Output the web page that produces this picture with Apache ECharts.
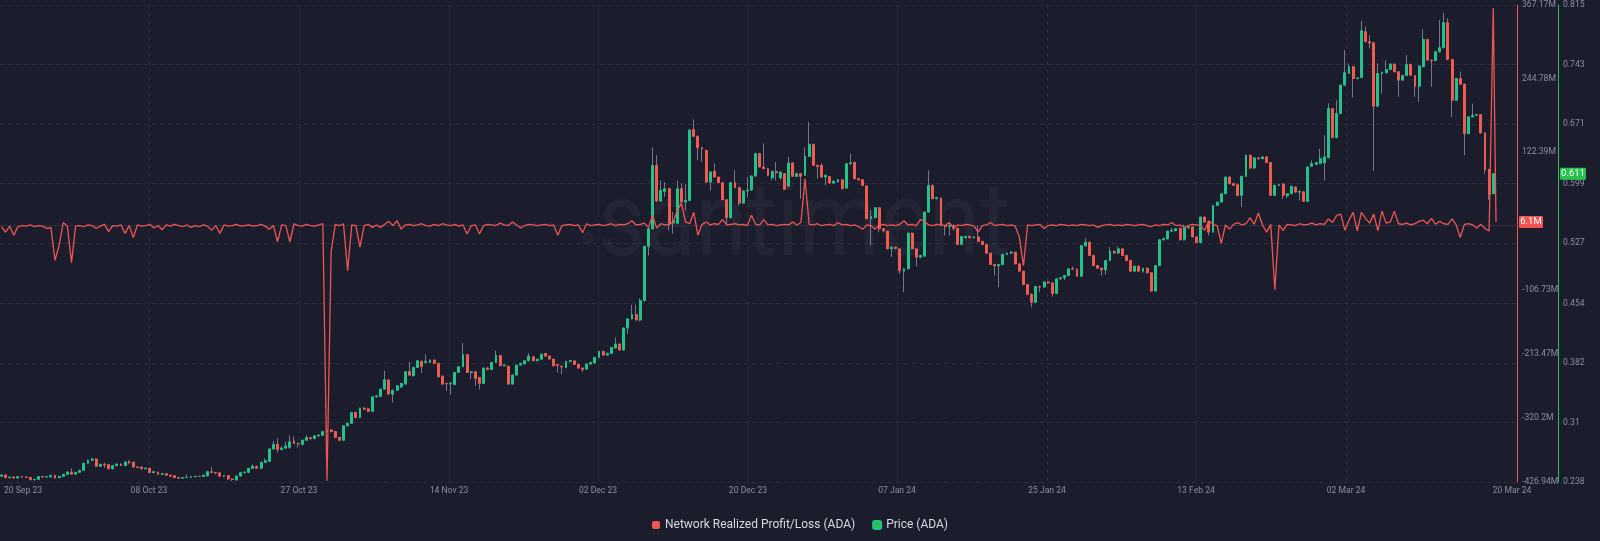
<!DOCTYPE html>
<html><head><meta charset="utf-8">
<script src="https://cdn.jsdelivr.net/npm/echarts/dist/echarts.min.js"></script>
<style>html,body{margin:0;padding:0;background:#1b1d2d;}#c{width:1600px;height:541px;}</style>
</head><body><div id="c"></div>
<script>
// ---- time base: 12h candles ----
const firstCandle = '2023-09-21T00:00:00Z';
const candleStepHours = 12;

// ---- Price (ADA) OHLC, 12h candles ----
const priceOpen = [
.2450,.2465,.2432,.2440,.2428,.2445,.2440,.2436,.2408,.2412,
.2445,.2440,.2444,.2460,.2432,.2448,.2473,.2500,.2475,.2497,
.2521,.2606,.2643,.2658,.2570,.2594,.2590,.2540,.2578,.2598,
.2580,.2622,.2618,.2562,.2560,.2540,.2548,.2493,.2500,.2473,
.2480,.2462,.2455,.2432,.2427,.2434,.2437,.2445,.2448,.2446,
.2455,.2505,.2495,.2490,.2450,.2456,.2416,.2405,.2452,.2493,
.2497,.2545,.2570,.2546,.2618,.2630,.2780,.2836,.2772,.2790,
.2800,.2875,.2845,.2835,.2885,.2917,.2905,.2938,.2945,.2990,
.3010,.2990,.2920,.2885,.3060,.3090,.3220,.3160,.3272,.3265,
.3235,.3410,.3415,.3503,.3612,.3443,.3490,.3530,.3564,.3717,
.3665,.3766,.3840,.3826,.3826,.3855,.3815,.3660,.3572,.3568,
.3560,.3705,.3774,.3919,.3705,.3713,.3645,.3572,.3758,.3740,
.3826,.3911,.3786,.3780,.3564,.3673,.3794,.3808,.3847,.3895,
.3847,.3865,.3935,.3903,.3867,.3800,.3780,.3766,.3839,.3845,
.3802,.3758,.3746,.3806,.3820,.3887,.3960,.3915,.3935,.4000,
.4049,.3976,.4242,.4352,.4404,.4340,.4575,.5230,.5443,.6210,
.5778,.5895,.5928,.5512,.5510,.5928,.5766,.5786,.6643,.6562,
.6425,.6390,.6008,.6138,.6069,.6000,.5794,.5576,.6000,.5940,
.5754,.5900,.5912,.6081,.6352,.6190,.6170,.6060,.6138,.6060,
.6110,.5960,.6239,.6077,.6110,.6090,.6320,.6465,.6210,.6210,
.6069,.6075,.5996,.6010,.6036,.5935,.6230,.6245,.6049,.6036,
.5960,.5564,.5580,.5697,.5443,.5415,.5200,.5220,.5200,.4930,
.4958,.5390,.5200,.5099,.5112,.5645,.5968,.5806,.5815,.5483,
.5470,.5480,.5450,.5253,.5335,.5350,.5335,.5345,.5290,.5253,
.5148,.5011,.4995,.5010,.5133,.5148,.5160,.5019,.4930,.4768,
.4650,.4554,.4745,.4738,.4800,.4788,.4660,.4837,.4850,.4878,
.4958,.4955,.4870,.5237,.5281,.5120,.4998,.4966,.4945,.5059,
.5170,.5150,.5200,.5120,.5059,.4930,.4990,.4930,.4965,.4910,
.4690,.4998,.5310,.5320,.5414,.5420,.5445,.5310,.5455,.5465,
.5345,.5275,.5585,.5524,.5403,.5726,.5766,.5867,.6069,.5988,
.5975,.5847,.6077,.6332,.6178,.6300,.6290,.6312,.6244,.5847,
.5968,.5985,.5840,.5867,.5948,.5887,.5890,.5774,.6200,.6223,
.6235,.6240,.6303,.6897,.6546,.6837,.7181,.7322,.7403,.7261,
.7273,.7827,.7706,.7694,.6926,.7322,.7330,.7370,.7435,.7342,
.7241,.7297,.7431,.7295,.7168,.7403,.7734,.7483,.7478,.7584,
.7633,.7936,.7491,.6998,.7261,.7192,.6594,.6796,.6817,.6825,
.6603,.6158,.5867];
const priceClose = [
.2465,.2432,.2440,.2428,.2445,.2440,.2436,.2408,.2412,.2445,
.2440,.2444,.2460,.2430,.2448,.2473,.2501,.2475,.2497,.2521,
.2606,.2643,.2658,.2570,.2594,.2585,.2540,.2578,.2598,.2580,
.2622,.2618,.2562,.2555,.2540,.2548,.2493,.2505,.2473,.2480,
.2462,.2450,.2432,.2427,.2434,.2437,.2445,.2448,.2446,.2462,
.2505,.2495,.2488,.2450,.2456,.2416,.2410,.2452,.2493,.2500,
.2545,.2570,.2546,.2618,.2638,.2780,.2836,.2772,.2790,.2815,
.2865,.2845,.2840,.2885,.2917,.2905,.2938,.2945,.2990,.3005,
.2990,.2920,.2885,.3060,.3090,.3220,.3160,.3272,.3260,.3235,
.3410,.3422,.3503,.3617,.3443,.3490,.3544,.3572,.3713,.3673,
.3766,.3847,.3780,.3840,.3855,.3815,.3652,.3564,.3568,.3575,
.3705,.3774,.3919,.3705,.3713,.3632,.3572,.3758,.3740,.3826,
.3911,.3786,.3795,.3564,.3673,.3794,.3815,.3847,.3903,.3847,
.3865,.3927,.3903,.3867,.3786,.3790,.3772,.3839,.3847,.3802,
.3758,.3742,.3806,.3826,.3887,.3960,.3915,.3935,.4008,.4049,
.3976,.4242,.4352,.4404,.4340,.4575,.5230,.5443,.6210,.5778,
.5908,.5928,.5512,.5540,.5928,.5766,.5786,.6635,.6562,.6425,
.6410,.6008,.6130,.6069,.6000,.5794,.5576,.6000,.5940,.5754,
.5900,.5912,.6081,.6352,.6190,.6170,.6089,.6138,.6120,.6130,
.5920,.6239,.6077,.6110,.6077,.6320,.6465,.6210,.6195,.6069,
.6090,.5996,.6020,.6036,.5928,.6230,.6240,.6049,.6035,.5968,
.5564,.5590,.5697,.5443,.5420,.5200,.5220,.5205,.4938,.4958,
.5390,.5200,.5099,.5120,.5645,.5968,.5806,.5820,.5483,.5470,
.5480,.5450,.5253,.5350,.5350,.5335,.5345,.5290,.5253,.5148,
.5011,.4995,.5010,.5133,.5148,.5160,.5019,.4930,.4768,.4650,
.4554,.4745,.4738,.4800,.4788,.4660,.4837,.4850,.4878,.4958,
.4955,.4870,.5237,.5281,.5120,.4998,.4966,.4945,.5059,.5170,
.5150,.5200,.5120,.5059,.4930,.4990,.4930,.4965,.4910,.4690,
.4998,.5310,.5325,.5414,.5425,.5445,.5310,.5455,.5465,.5345,
.5275,.5585,.5524,.5403,.5726,.5766,.5867,.6069,.5988,.5968,
.5847,.6077,.6332,.6178,.6300,.6290,.6312,.6244,.5847,.5968,
.5975,.5847,.5867,.5956,.5887,.5895,.5774,.6190,.6231,.6243,
.6291,.6312,.6897,.6546,.6837,.7181,.7330,.7403,.7261,.7268,
.7839,.7706,.7690,.6926,.7322,.7335,.7370,.7435,.7342,.7241,
.7297,.7431,.7301,.7168,.7411,.7734,.7483,.7475,.7584,.7633,
.7936,.7491,.6998,.7261,.7192,.6594,.6796,.6817,.6825,.6603,
.6158,.5859,.6110];
const priceLow = [
.2440,.2425,.2425,.2420,.2420,.2432,.2428,.2400,.2398,.2405,
.2432,.2434,.2428,.2422,.2428,.2440,.2468,.2470,.2470,.2490,
.2515,.2600,.2632,.2565,.2562,.2553,.2535,.2530,.2570,.2574,
.2575,.2594,.2555,.2548,.2535,.2535,.2487,.2485,.2468,.2465,
.2455,.2440,.2428,.2418,.2420,.2430,.2433,.2440,.2440,.2440,
.2446,.2490,.2480,.2445,.2440,.2410,.2392,.2395,.2448,.2488,
.2488,.2540,.2540,.2540,.2612,.2620,.2770,.2735,.2765,.2780,
.2780,.2840,.2796,.2820,.2880,.2895,.2895,.2925,.2935,.2985,
.2982,.2910,.2875,.2880,.3050,.3085,.3150,.3155,.3252,.3228,
.3230,.3400,.3405,.3498,.3438,.3342,.3485,.3518,.3560,.3668,
.3660,.3760,.3697,.3820,.3820,.3808,.3648,.3558,.3483,.3434,
.3550,.3700,.3770,.3700,.3625,.3544,.3503,.3568,.3733,.3735,
.3820,.3780,.3780,.3560,.3560,.3668,.3790,.3800,.3842,.3842,
.3840,.3860,.3898,.3862,.3780,.3705,.3685,.3760,.3830,.3796,
.3752,.3710,.3740,.3800,.3812,.3882,.3910,.3910,.3930,.3995,
.3970,.3970,.4170,.4345,.4335,.4320,.4560,.5120,.5430,.5770,
.5770,.5827,.5423,.5382,.5500,.5760,.5665,.5780,.6555,.6271,
.6251,.6000,.5907,.6060,.5995,.5790,.5483,.5570,.5935,.5720,
.5745,.5827,.5900,.6075,.6185,.6160,.6080,.6030,.6028,.6035,
.5915,.5940,.6070,.6070,.5807,.6085,.6310,.6205,.6049,.6060,
.5968,.5990,.5990,.6000,.5920,.5930,.6220,.6040,.6025,.5960,
.5555,.5241,.5570,.5402,.5400,.5195,.5100,.5195,.4897,.4675,
.4950,.5195,.4987,.5090,.5105,.5640,.5800,.5798,.5478,.5362,
.5362,.5420,.5245,.5245,.5325,.5325,.5325,.5285,.5245,.5140,
.5005,.4877,.4735,.5005,.5125,.5140,.5012,.4925,.4760,.4640,
.4493,.4545,.4675,.4730,.4775,.4620,.4655,.4830,.4822,.4870,
.4945,.4862,.4862,.5230,.5115,.4990,.4960,.4877,.4890,.5052,
.5140,.5140,.5115,.5050,.4925,.4922,.4920,.4910,.4900,.4680,
.4685,.4990,.5300,.5315,.5405,.5410,.5300,.5300,.5445,.5340,
.5270,.5270,.5520,.5362,.5395,.5720,.5760,.5860,.5982,.5960,
.5840,.5705,.6070,.6170,.6170,.6280,.6285,.6238,.5840,.5840,
.5960,.5800,.5815,.5860,.5880,.5786,.5768,.5768,.6195,.6215,
.6225,.6029,.6295,.6540,.6538,.6830,.7175,.7315,.7031,.7250,
.7265,.7700,.7625,.6142,.6918,.7079,.7325,.7365,.7335,.7039,
.7235,.7290,.7295,.7039,.6978,.7398,.7478,.7160,.7470,.7578,
.7625,.7485,.6796,.6990,.7185,.6332,.6588,.6788,.6805,.6595,
.6110,.5794,.5860];
const priceHigh = [
.2470,.2470,.2445,.2445,.2450,.2450,.2446,.2440,.2420,.2450,
.2452,.2452,.2466,.2468,.2452,.2478,.2508,.2545,.2502,.2528,
.2612,.2650,.2675,.2668,.2600,.2614,.2598,.2585,.2605,.2604,
.2628,.2647,.2630,.2570,.2570,.2553,.2553,.2512,.2505,.2485,
.2488,.2468,.2462,.2440,.2440,.2473,.2450,.2455,.2456,.2468,
.2510,.2562,.2502,.2498,.2462,.2460,.2425,.2458,.2498,.2508,
.2550,.2594,.2578,.2622,.2667,.2785,.2877,.2910,.2815,.2868,
.2945,.2930,.2860,.2892,.2945,.2925,.2950,.2960,.2998,.3012,
.3018,.2995,.2925,.3065,.3100,.3225,.3230,.3280,.3285,.3280,
.3418,.3430,.3510,.3726,.3625,.3495,.3550,.3580,.3720,.3835,
.3772,.3852,.3845,.3927,.3860,.3860,.3820,.3670,.3580,.3585,
.3710,.3780,.4060,.3925,.3720,.3718,.3650,.3765,.3770,.3832,
.3968,.3918,.3805,.3786,.3680,.3800,.3822,.3852,.3940,.3900,
.3870,.3932,.3940,.3908,.3872,.3810,.3790,.3845,.3855,.3850,
.3808,.3766,.3812,.3832,.3892,.3965,.3968,.3945,.4014,.4129,
.4055,.4250,.4360,.4525,.4525,.4600,.5240,.5460,.6425,.6332,
.6029,.6008,.5940,.5645,.6029,.5990,.5988,.6650,.6764,.6570,
.6432,.6400,.6138,.6231,.6075,.6005,.5800,.6008,.6150,.5950,
.5910,.6069,.6090,.6360,.6360,.6473,.6180,.6145,.6250,.6140,
.6115,.6312,.6245,.6118,.6118,.6425,.6736,.6470,.6220,.6235,
.6098,.6080,.6028,.6045,.6042,.6240,.6352,.6258,.6057,.6042,
.5966,.5670,.5705,.5705,.5450,.5420,.5230,.5230,.5205,.4965,
.5398,.5398,.5205,.5128,.5652,.6150,.5980,.5828,.5820,.5490,
.5520,.5500,.5458,.5358,.5358,.5360,.5352,.5480,.5298,.5260,
.5155,.5020,.5020,.5140,.5155,.5170,.5165,.5025,.4935,.4775,
.4660,.4755,.4755,.4808,.4806,.4795,.4845,.4860,.4885,.4965,
.4985,.4960,.5245,.5334,.5288,.5128,.5005,.4972,.5066,.5222,
.5180,.5228,.5208,.5128,.5065,.4998,.5000,.4970,.4975,.4918,
.5005,.5318,.5335,.5422,.5455,.5452,.5460,.5495,.5475,.5472,
.5352,.5592,.5592,.5530,.5732,.5772,.5875,.6075,.6075,.6000,
.5995,.6085,.6340,.6340,.6310,.6310,.6320,.6320,.6250,.5975,
.5990,.5995,.5875,.5965,.5955,.5905,.5895,.6198,.6271,.6250,
.6413,.6574,.6960,.6905,.6998,.7190,.7605,.7443,.7410,.7280,
.7960,.7887,.7786,.7700,.7443,.7345,.7483,.7442,.7442,.7348,
.7305,.7544,.7438,.7300,.7418,.7855,.7740,.7490,.7590,.7968,
.8057,.7988,.7498,.7268,.7342,.7198,.6805,.6958,.6832,.6830,
.6610,.6165,.6118];

// ---- Network Realized Profit/Loss (ADA), millions, same 12h steps ----
const realizedPL = [
-2,-11,-1,-16,-2,0,-1,1,-2,0,
-1,-5,-3,-58,-33,5,-1,-62,-1,0,
-2,1,0,-5,-1,2,-10,0,-1,1,
-13,0,-20,1,-1,0,2,-4,0,-7,
1,-1,2,0,-2,1,-3,0,-2,1,
-1,-8,0,-13,1,-1,0,2,-1,0,
1,-1,0,2,-1,-6,0,-27,1,0,
-27,3,0,-1,2,0,-1,1,3,-425,
-44,2,0,3,-75,1,0,-36,0,2,
-3,1,-3,2,7,0,8,-6,1,2,
0,1,3,0,-1,2,0,3,1,0,
2,-1,1,-14,0,1,-14,0,2,1,
0,4,1,0,6,1,-4,0,2,1,
0,1,2,0,1,-16,0,1,2,0,
1,-12,3,0,1,2,0,1,3,0,
2,1,3,8,1,2,4,-3,17,-4,
3,1,2,6,25,37,6,3,22,-16,
2,6,1,3,2,10,1,2,3,1,
2,0,17,2,1,10,1,2,0,1,
2,1,6,1,5,78,2,1,3,0,
1,2,0,5,1,2,0,1,-2,-6,
1,0,-6,1,2,0,1,0,2,8,
1,2,0,10,7,1,0,2,1,0,
5,-4,1,0,2,1,-1,-11,0,1,
5,0,1,2,0,1,-1,-19,-67,1,
0,1,2,-5,0,1,0,2,1,0,
1,0,2,1,0,1,-3,0,1,2,
0,1,0,2,1,0,1,2,0,-2,
1,0,2,1,5,0,1,-3,0,2,
1,0,-8,8,2,0,-30,1,-6,2,
5,1,3,13,2,21,1,-11,2,-107,
1,-8,2,1,0,3,1,2,4,1,
3,2,11,5,17,19,-8,9,22,-9,
22,12,4,19,-9,24,4,6,24,3,
2,4,1,3,7,9,3,12,2,7,
3,2,11,1,-20,2,3,1,-4,2,
-5,-9,362];
const realizedPLLastTime = '2024-03-20T08:00:00Z';
const realizedPLLast = 6.1;

// ---- axes ----
const xStart = '2023-09-20T19:48:00Z';
const xEnd = '2024-03-22T21:07:00Z';
const xLabelTimes = ['2023-09-23T14:47:00Z','2023-10-08T21:40:00Z','2023-10-27T02:28:00Z','2023-11-14T07:16:00Z','2023-12-02T09:09:00Z','2023-12-20T13:55:00Z','2024-01-07T15:49:00Z','2024-01-25T20:36:00Z','2024-02-12T22:28:00Z','2024-03-02T03:14:00Z','2024-03-22T06:37:00Z'];
const xLabelText = ['20 Sep 23','08 Oct 23','27 Oct 23','14 Nov 23','02 Dec 23','20 Dec 23','07 Jan 24','25 Jan 24','13 Feb 24','02 Mar 24','20 Mar 24'];
const plTicks = [367.17, 244.78, 122.39, -106.73, -213.47, -320.2, -426.94];
const plTickText = ['367.17M','244.78M','122.39M','-106.73M','-213.47M','-320.2M','-426.94M'];
const priceTicks = [0.238, 0.31, 0.382, 0.454, 0.527, 0.599, 0.671, 0.743, 0.815];
const lastPrice = 0.611;

// ---- build ----
const t0 = Date.parse(firstCandle);
const step = candleStepHours * 3600 * 1000;
const times = priceOpen.map((_, i) => t0 + i * step);
const wickData = times.map((t, i) => [t, priceOpen[i], priceClose[i], priceLow[i], priceHigh[i]]);
const bodyData = times.map((t, i) => [t, priceOpen[i], priceClose[i], Math.min(priceOpen[i], priceClose[i]), Math.max(priceOpen[i], priceClose[i])]);
const plData = realizedPL.map((v, i) => [times[i], v]);
plData.push([Date.parse(realizedPLLastTime), realizedPLLast]);
const xLabelMs = xLabelTimes.map(s => Date.parse(s));
const xGridMs = xLabelMs.slice(1, xLabelMs.length - 1);

function nearestText(v, vals, texts) {
  let bi = 0, bd = Infinity;
  vals.forEach((x, i) => { const d = Math.abs(x - v); if (d < bd) { bd = d; bi = i; } });
  return texts[bi];
}

const FONT = 'Roboto, "Noto Sans", sans-serif';
const labelColor = '#8b8fa3';
const RED = '#ef5552';
const GREEN = '#27c24e';
const UP = '#22c28a';
const DOWN = '#ee5c50';

const chart = echarts.init(document.getElementById('c'), null, {renderer: 'canvas'});
const option = {
  backgroundColor: '#1b1d2d',
  animation: false,
  textStyle: {fontFamily: FONT},
  grid: {left: 0, right: 83, top: 5, bottom: 59, containLabel: false},
  legend: {
    left: 'center', top: 514, icon: 'roundRect', itemWidth: 8, itemHeight: 8, itemGap: 17,
    textStyle: {color: '#d8d9e1', fontSize: 12, fontFamily: FONT},
    data: [
      {name: 'Network Realized Profit/Loss (ADA)', itemStyle: {color: RED}},
      {name: 'Price (ADA)', itemStyle: {color: GREEN}}
    ]
  },
  xAxis: {
    type: 'value', min: Date.parse(xStart), max: Date.parse(xEnd), scale: true,
    axisLine: {show: true, lineStyle: {color: '#2c2f42', width: 1}},
    axisTick: {show: false, customValues: xGridMs},
    splitLine: {show: true, lineStyle: {color: '#2a2d40', type: [4, 4], width: 1}},
    axisLabel: {
      customValues: xLabelMs, color: labelColor, fontSize: 8.6, margin: 4,
      formatter: v => nearestText(v, xLabelMs, xLabelText)
    }
  },
  yAxis: [
    {
      type: 'value', position: 'right', min: -426.94, max: 367.17,
      axisLine: {show: true, lineStyle: {color: RED, width: 1}},
      axisTick: {show: false}, splitLine: {show: false},
      axisLabel: {customValues: plTicks, color: labelColor, fontSize: 8.6, margin: 5,
        formatter: v => nearestText(v, plTicks, plTickText)}
    },
    {
      type: 'value', position: 'right', offset: 41, min: 0.238, max: 0.815,
      axisLine: {show: true, lineStyle: {color: GREEN, width: 1}},
      axisTick: {show: false, customValues: priceTicks},
      splitLine: {show: true, lineStyle: {color: '#2a2d40', type: [4, 4], width: 1}},
      axisLabel: {customValues: priceTicks, color: labelColor, fontSize: 8.6, margin: 5,
        formatter: v => String(nearestText(v, priceTicks, priceTicks))}
    }
  ],
  series: [
    {
      name: 'wicks', type: 'candlestick', yAxisIndex: 1, barWidth: 1,
      encode: {x: 0, y: [1, 2, 3, 4]},
      itemStyle: {color: '#737790', color0: '#737790', borderColor: '#737790', borderColor0: '#737790', borderWidth: 1},
      data: wickData, z: 2
    },
    {
      name: 'Price (ADA)', type: 'candlestick', yAxisIndex: 1, barWidth: 2.4,
      encode: {x: 0, y: [1, 2, 3, 4]},
      itemStyle: {color: UP, color0: DOWN, borderColor: UP, borderColor0: DOWN, borderWidth: 1},
      data: bodyData, z: 3
    },
    {
      name: 'Network Realized Profit/Loss (ADA)', type: 'line', yAxisIndex: 0,
      showSymbol: false, symbol: 'none', data: plData,
      lineStyle: {color: RED, width: 1.3}, itemStyle: {color: RED}, z: 4
    }
  ]
};
chart.setOption(option);

const yPL = chart.convertToPixel({yAxisIndex: 0}, realizedPLLast);
const yPrice = chart.convertToPixel({yAxisIndex: 1}, lastPrice);
const wm = 'rgba(255,255,255,0.035)';
chart.setOption({
  graphic: [
    {type: 'circle', id: 'wmdot', silent: true, z: 0, shape: {cx: 588, cy: 238, r: 6}, style: {fill: wm}},
    {type: 'text', id: 'wm', silent: true, z: 0, x: 598, y: 177, scaleX: 0.886,
      style: {text: 'santiment', fill: wm, fontSize: 104, fontFamily: 'Roboto', textAlign: 'left', textVerticalAlign: 'top', align: 'left', verticalAlign: 'top'}},
    {type: 'rect', id: 'plTag', z: 10, shape: {x: 1519, y: yPL - 6, width: 24, height: 12, r: 1}, style: {fill: RED}},
    {type: 'text', id: 'plTagText', z: 11, x: 1531, y: yPL,
      style: {text: realizedPLLast + 'M', fill: '#ffffff', fontSize: 9.5, fontFamily: FONT, textAlign: 'center', textVerticalAlign: 'middle', align: 'center', verticalAlign: 'middle'}},
    {type: 'rect', id: 'pTag', z: 10, shape: {x: 1560, y: yPrice - 6, width: 26, height: 12, r: 1}, style: {fill: GREEN}},
    {type: 'text', id: 'pTagText', z: 11, x: 1573, y: yPrice,
      style: {text: String(lastPrice), fill: '#ffffff', fontSize: 9.5, fontFamily: FONT, textAlign: 'center', textVerticalAlign: 'middle', align: 'center', verticalAlign: 'middle'}}
  ]
});
</script>
</body></html>
